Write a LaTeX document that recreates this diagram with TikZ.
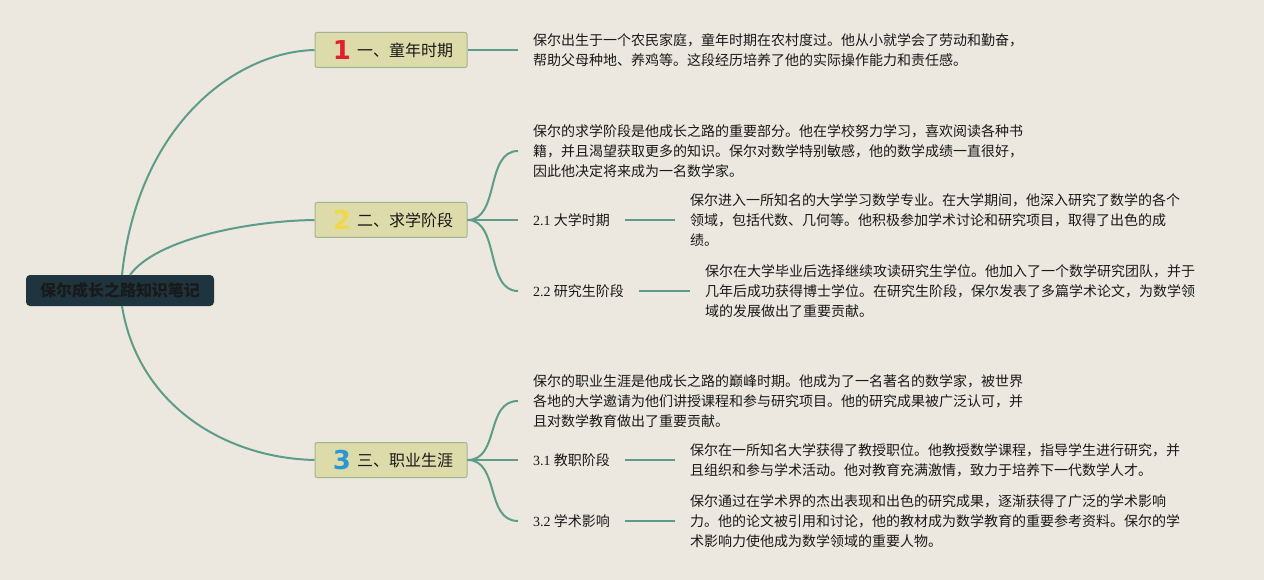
\documentclass[tikz,border=0pt]{standalone}
\usepackage{fontspec}
\setmainfont{Noto Sans CJK SC}
\newfontfamily\latinserif{Liberation Serif}
\newfontfamily\digitfont{DejaVu Sans}
\definecolor{bgc}{HTML}{ECE8E0}
\definecolor{linec}{HTML}{5E9C8A}
\definecolor{rootc}{HTML}{1E3540}
\definecolor{boxfill}{HTML}{DDDBAA}
\definecolor{boxdraw}{HTML}{9FB58F}
\definecolor{onec}{HTML}{E02030}
\definecolor{twoc}{HTML}{F2D848}
\definecolor{threec}{HTML}{2A96D6}
\tikzset{
  conn/.style={draw=linec, line width=2pt},
  rootbox/.style={fill=rootc, rounded corners=4pt, minimum width=188pt, minimum height=31pt, font=\fontsize{16}{18}\selectfont\bfseries, text=black!90},
  branchbox/.style={fill=boxfill, draw=boxdraw, line width=1pt, rounded corners=2pt, minimum width=152pt, minimum height=35pt},
  branchtext/.style={font=\fontsize{16}{18}\selectfont, text=black!90, anchor=west, inner sep=0pt},
  digit/.style={font=\digitfont\fontsize{26}{26}\selectfont\bfseries, inner sep=0pt},
  para/.style={font=\fontsize{14}{20.2}\selectfont, text=black!90, anchor=west, align=left, inner sep=0pt},
  sublabel/.style={font=\fontsize{14}{16}\selectfont, text=black!90, anchor=west, inner sep=0pt},
}
\newcommand{\lat}[1]{{\latinserif #1}}
\begin{document}
\begin{tikzpicture}[x=1pt,y=-1pt]
\useasboundingbox[fill=bgc] (0,0) rectangle (1264,580);

% root
\node[rootbox] (root) at (120,290.5) {保尔成长之路知识笔记};

% branches
\node[branchbox] (b1) at (391,50) {};
\node[digit, text=onec] (d1) at (342,50) {1};
\node[branchtext] (t1) at (357,50) {一、童年时期};

\node[branchbox] (b2) at (391,220) {};
\node[digit, text=twoc] (d2) at (342,220) {2};
\node[branchtext] (t2) at (357,220) {二、求学阶段};

\node[branchbox] (b3) at (391,460) {};
\node[digit, text=threec] (d3) at (342,460) {3};
\node[branchtext] (t3) at (357,460) {三、职业生涯};

% root connectors
\coordinate (r1) at (122,275);
\coordinate (r2) at (130,275);
\coordinate (r3) at (122,306);
\draw[conn] (r1) .. controls (138,125) and (235,52) .. (b1.west);
\draw[conn] (r2) .. controls (155,240) and (245,221) .. (b2.west);
\draw[conn] (r3) .. controls (138,405) and (225,458) .. (b3.west);

% branch 1
\node[para] (p1) at (533,50) {保尔出生于一个农民家庭，童年时期在农村度过。他从小就学会了劳动和勤奋，\\帮助父母种地、养鸡等。这段经历培养了他的实际操作能力和责任感。};
\coordinate (e1) at ([xshift=-15pt]p1.west);
\draw[conn] (b1.east) -- (e1);

% branch 2
\node[para] (p2) at (533,151) {保尔的求学阶段是他成长之路的重要部分。他在学校努力学习，喜欢阅读各种书\\籍，并且渴望获取更多的知识。保尔对数学特别敏感，他的数学成绩一直很好，\\因此他决定将来成为一名数学家。};
\node[sublabel] (s21) at (533,220) {\lat{2.1} 大学时期};
\node[sublabel] (s22) at (533,291) {\lat{2.2} 研究生阶段};
\node[para] (p21) at (690,220) {保尔进入一所知名的大学学习数学专业。在大学期间，他深入研究了数学的各个\\领域，包括代数、几何等。他积极参加学术讨论和研究项目，取得了出色的成\\绩。};
\node[para] (p22) at (705,291) {保尔在大学毕业后选择继续攻读研究生学位。他加入了一个数学研究团队，并于\\几年后成功获得博士学位。在研究生阶段，保尔发表了多篇学术论文，为数学领\\域的发展做出了重要贡献。};
\coordinate (e21) at ([xshift=-15pt]s21.west);
\draw[conn] (b2.east) .. controls (500,220) and (485,151) .. ([xshift=-15pt]p2.west);
\draw[conn] (b2.east) -- (e21);
\draw[conn] (b2.east) .. controls (500,220) and (485,291) .. ([xshift=-15pt]s22.west);
\draw[conn] ([xshift=15pt]s21.east) -- ([xshift=-15pt]p21.west);
\draw[conn] ([xshift=15pt]s22.east) -- ([xshift=-15pt]p22.west);

% branch 3
\node[para] (p3) at (533,401) {保尔的职业生涯是他成长之路的巅峰时期。他成为了一名著名的数学家，被世界\\各地的大学邀请为他们讲授课程和参与研究项目。他的研究成果被广泛认可，并\\且对数学教育做出了重要贡献。};
\node[sublabel] (s31) at (533,460) {\lat{3.1} 教职阶段};
\node[sublabel] (s32) at (533,521) {\lat{3.2} 学术影响};
\node[para] (p31) at (690,460) {保尔在一所知名大学获得了教授职位。他教授数学课程，指导学生进行研究，并\\且组织和参与学术活动。他对教育充满激情，致力于培养下一代数学人才。};
\node[para] (p32) at (690,521) {保尔通过在学术界的杰出表现和出色的研究成果，逐渐获得了广泛的学术影响\\力。他的论文被引用和讨论，他的教材成为数学教育的重要参考资料。保尔的学\\术影响力使他成为数学领域的重要人物。};
\coordinate (e31) at ([xshift=-15pt]s31.west);
\draw[conn] (b3.east) .. controls (500,460) and (485,401) .. ([xshift=-15pt]p3.west);
\draw[conn] (b3.east) -- (e31);
\draw[conn] (b3.east) .. controls (500,460) and (485,521) .. ([xshift=-15pt]s32.west);
\draw[conn] ([xshift=15pt]s31.east) -- ([xshift=-15pt]p31.west);
\draw[conn] ([xshift=15pt]s32.east) -- ([xshift=-15pt]p32.west);
\end{tikzpicture}
\end{document}
